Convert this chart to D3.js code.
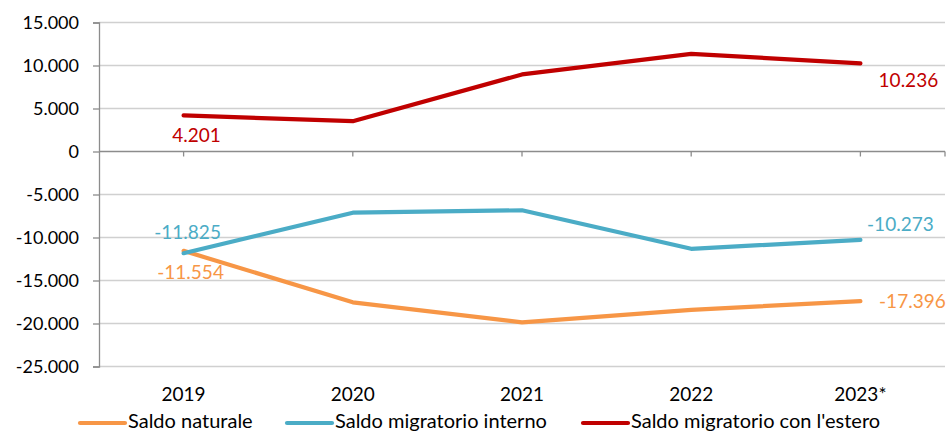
<!DOCTYPE html>
<html>
<head>
<meta charset="utf-8">
<script src="https://cdn.jsdelivr.net/npm/d3@7"></script>
<style>
  html, body { margin: 0; padding: 0; background: #fff; }
  svg { display: block; font-family: Lato, "Liberation Sans", sans-serif; }
</style>
</head>
<body>
<svg id="chart" width="947" height="432"></svg>
<script>
// Anni e saldi demografici
const years = ["2019", "2020", "2021", "2022", "2023*"];
const saldoNaturale = [-11554, -17535, -19860, -18420, -17396];
const saldoInterno = [-11825, -7116, -6837, -11314, -10273];
const saldoEstero = [4201, 3523, 8960, 11360, 10236];
const yTicks = [15000, 10000, 5000, 0, -5000, -10000, -15000, -20000, -25000];

const seriesNames = ["Saldo naturale", "Saldo migratorio interno", "Saldo migratorio con l'estero"];
const seriesColors = ["#F79646", "#4BACC6", "#C00000"];
const seriesValues = [saldoNaturale, saldoInterno, saldoEstero];

// Etichette: solo primo e ultimo punto, con lo scostamento rispetto al punto
const labelOffsets = [
  { first: [7, 28], last: [52, 7] },
  { first: [4, -14], last: [40, -9] },
  { first: [13, 27], last: [48, 24] }
];

const it = d3.formatLocale({ decimal: ",", thousands: ".", grouping: [3], currency: ["€", ""], minus: "-" });
const fmt = it.format(",d");

const svg = d3.select("#chart");
const plotLeft = 99, plotRight = 945, plotTop = 22.5, plotBottom = 366.5;

const x = d3.scalePoint().domain(years).range([plotLeft, plotRight]).padding(0.5);
const y = d3.scaleLinear().domain([-25000, 15000]).range([plotBottom, plotTop]);

// Griglia orizzontale
svg.append("g").selectAll("line").data(yTicks.filter(d => d !== 0)).join("line")
  .attr("x1", plotLeft).attr("x2", plotRight)
  .attr("y1", d => y(d)).attr("y2", d => y(d))
  .attr("stroke", "#D0D0D0").attr("stroke-width", 1.3);

// Asse verticale
const yAxis = svg.append("g").attr("transform", `translate(${plotLeft},0)`)
  .call(d3.axisLeft(y).tickValues(yTicks).tickFormat(d => fmt(d)).tickSize(6).tickPadding(14));
yAxis.select(".domain").attr("stroke", "#8C8C8C").attr("stroke-width", 1.3);
yAxis.selectAll(".tick line").attr("stroke", "#8C8C8C").attr("stroke-width", 1.3);
yAxis.selectAll(".tick text").attr("font-size", 18).attr("fill", "#000").attr("font-family", "Lato, sans-serif");

// Asse orizzontale sullo zero
const zeroY = y(0);
svg.append("line").attr("x1", plotLeft).attr("x2", plotRight).attr("y1", zeroY).attr("y2", zeroY)
  .attr("stroke", "#8C8C8C").attr("stroke-width", 1.3);
svg.append("g").selectAll("line").data(years).join("line")
  .attr("x1", d => x(d)).attr("x2", d => x(d))
  .attr("y1", zeroY).attr("y2", zeroY + 5)
  .attr("stroke", "#8C8C8C").attr("stroke-width", 1.3);
svg.append("line").attr("x1", plotRight).attr("x2", plotRight).attr("y1", zeroY).attr("y2", zeroY + 5)
  .attr("stroke", "#8C8C8C").attr("stroke-width", 1.3);

// Etichette degli anni sotto l'area del grafico
svg.append("g").selectAll("text").data(years).join("text")
  .attr("x", d => x(d)).attr("y", 401)
  .attr("text-anchor", "middle").attr("font-size", 19).attr("fill", "#000")
  .text(d => d);

// Linee delle serie
const line = d3.line().x((d, i) => x(years[i])).y(d => y(d));
seriesValues.forEach((vals, s) => {
  svg.append("path").datum(vals)
    .attr("d", line)
    .attr("fill", "none")
    .attr("stroke", seriesColors[s])
    .attr("stroke-width", 4.2)
    .attr("stroke-linejoin", "round")
    .attr("stroke-linecap", "round");
});

// Etichette dei valori
seriesValues.forEach((vals, s) => {
  const n = vals.length - 1;
  [[0, labelOffsets[s].first], [n, labelOffsets[s].last]].forEach(([i, off]) => {
    svg.append("text")
      .attr("x", x(years[i]) + off[0])
      .attr("y", y(vals[i]) + off[1])
      .attr("text-anchor", "middle")
      .attr("font-size", 19)
      .attr("fill", seriesColors[s])
      .text(fmt(vals[i]));
  });
});

// Legenda
const legendItems = [
  { x1: 80, x2: 125 },
  { x1: 287, x2: 332 },
  { x1: 583, x2: 628 }
];
const legend = svg.append("g");
legendItems.forEach((p, s) => {
  legend.append("line").attr("x1", p.x1).attr("x2", p.x2).attr("y1", 423).attr("y2", 423)
    .attr("stroke", seriesColors[s]).attr("stroke-width", 4.2).attr("stroke-linecap", "round");
  legend.append("text").attr("x", p.x2 + 3).attr("y", 428)
    .attr("font-size", 20).attr("fill", "#000").text(seriesNames[s]);
});
</script>
</body>
</html>
